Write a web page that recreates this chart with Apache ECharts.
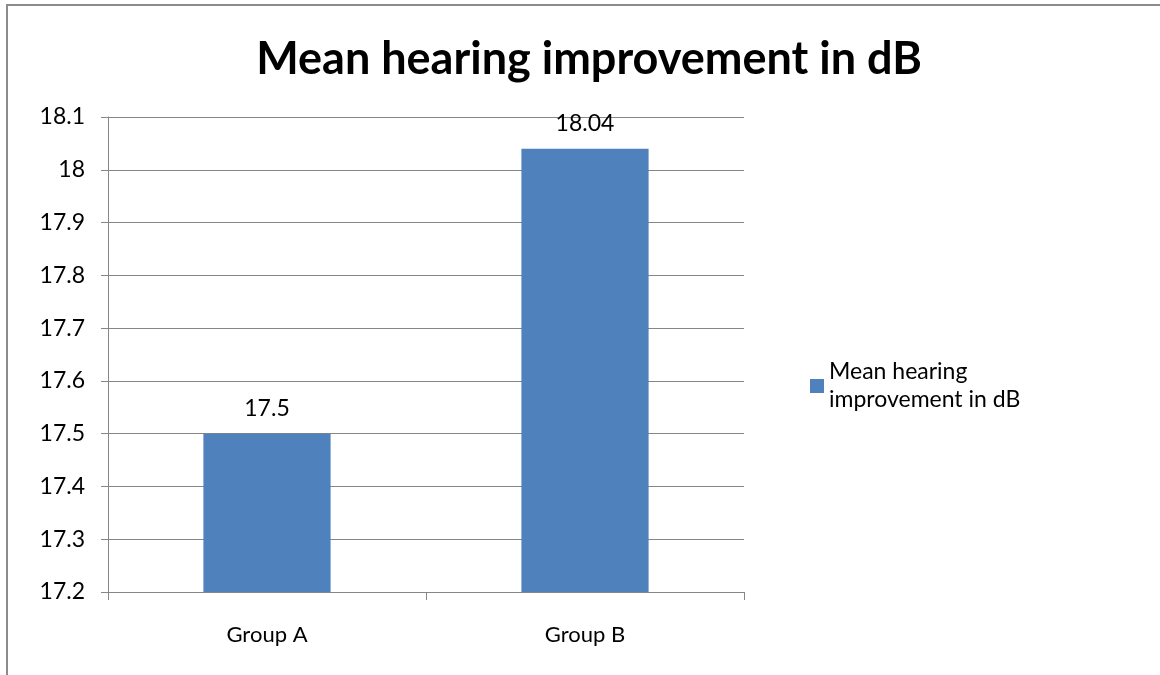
<!DOCTYPE html>
<html>
<head>
<meta charset="utf-8">
<script src="https://cdn.jsdelivr.net/npm/echarts@6/dist/echarts.min.js"></script>
<style>
  html, body { margin: 0; padding: 0; background: #fff; }
  #chart { width: 1160px; height: 675px; }
</style>
</head>
<body>
<div id="chart"></div>
<script>
const categories = ['Group A', 'Group B']
const improvement = [17.5, 18.04]
const seriesName = 'Mean hearing improvement in dB'

const myChart = echarts.init(document.getElementById('chart'), null, { renderer: 'canvas' })
const font = 'Lato, "Open Sans", sans-serif'

myChart.setOption({
  backgroundColor: '#fff',
  animation: false,
  title: {
    text: 'Mean hearing improvement in dB',
    left: 584,
    top: 32,
    textAlign: 'center',
    textStyle: { fontFamily: font, fontSize: 45, fontWeight: 'bold', color: '#000' },
  },
  graphic: [
    {
      type: 'rect',
      shape: { x: 7, y: 5, width: 1160, height: 700 },
      style: { fill: 'none', stroke: '#8c8c8c', lineWidth: 2 },
      silent: true,
    },
  ],
  legend: {
    left: 805,
    top: 353,
    orient: 'vertical',
    itemWidth: 14,
    itemHeight: 14,
    itemGap: 8,
    icon: 'rect',
    data: [{ name: seriesName }],
    formatter: () => 'Mean hearing\nimprovement in dB',
    textStyle: { fontFamily: font, fontSize: 23, color: '#000', lineHeight: 28 },
  },
  grid: { left: 108, right: 416, top: 117, bottom: 83 },
  xAxis: {
    type: 'category',
    data: categories,
    axisLine: { lineStyle: { color: '#868686' } },
    axisTick: { show: true, length: 8, lineStyle: { color: '#868686' } },
    axisLabel: { fontFamily: font, fontSize: 22, color: '#000', margin: 32 },
  },
  yAxis: {
    type: 'value',
    min: 17.2,
    max: 18.1,
    interval: 0.1,
    axisLine: { show: true, lineStyle: { color: '#868686' } },
    axisTick: { show: true, length: 7, lineStyle: { color: '#868686' } },
    splitLine: { lineStyle: { color: '#868686' } },
    axisLabel: {
      fontFamily: font, fontSize: 23, color: '#000', margin: 23,
      formatter: v => String(Math.round(v * 10) / 10),
    },
  },
  series: [
    {
      name: seriesName,
      type: 'bar',
      data: improvement,
      barWidth: '40%',
      itemStyle: { color: '#4f81bd' },
      label: {
        show: true,
        position: 'top',
        distance: 14,
        fontFamily: font,
        fontSize: 23,
        color: '#000',
      },
    },
  ],
})
</script>
</body>
</html>
